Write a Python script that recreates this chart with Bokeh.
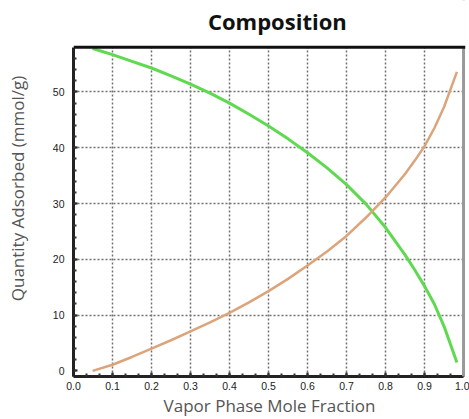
from bokeh.plotting import figure
from bokeh.models import Range1d, Span, FixedTicker, PrintfTickFormatter, Label, BoxAnnotation
from bokeh.embed import file_html
from bokeh.resources import INLINE

# data
x_green = [0.049, 0.10, 0.15, 0.20, 0.25, 0.30, 0.35, 0.40, 0.45, 0.50, 0.55,
           0.60, 0.65, 0.70, 0.75, 0.80, 0.85, 0.875, 0.90, 0.925, 0.95, 0.983]
y_green = [57.8, 56.7, 55.5, 54.3, 52.9, 51.4, 49.8, 48.0, 46.0, 43.9, 41.6,
           39.1, 36.4, 33.4, 29.9, 25.7, 20.8, 18.1, 15.2, 12.0, 8.0, 1.5]
x_orange = [0.049, 0.10, 0.15, 0.20, 0.25, 0.30, 0.35, 0.40, 0.45, 0.50, 0.55,
            0.60, 0.65, 0.70, 0.75, 0.80, 0.85, 0.875, 0.90, 0.925, 0.95, 0.983]
y_orange = [0.0, 1.1, 2.5, 4.0, 5.5, 7.1, 8.7, 10.4, 12.3, 14.3, 16.5,
            18.9, 21.4, 24.2, 27.5, 31.1, 35.3, 37.7, 40.3, 43.5, 47.3, 53.6]
x_ticks = [0.0, 0.1, 0.2, 0.3, 0.4, 0.5, 0.6, 0.7, 0.8, 0.9, 1.0]
y_ticks = [0, 10, 20, 30, 40, 50]
title_text = "Composition"

Y0, YTOP = -1.0, 58.0          # visible plotting area
YCANVAS = 66.4                 # range extends up to the canvas top (room for the title)
XEND = 1.005

p = figure(width=469, height=419, output_backend="svg", toolbar_location=None,
           x_range=Range1d(0, XEND), y_range=Range1d(Y0, YCANVAS),
           min_border_left=73, min_border_right=4, min_border_top=0, min_border_bottom=40)
p.outline_line_color = None
p.background_fill_color = "white"
p.border_fill_color = "white"

for ax in (p.xaxis, p.yaxis):
    ax.axis_line_color = "#222222"
    ax.axis_line_width = 3
    ax.major_tick_in = 4
    ax.major_tick_out = 0
    ax.major_tick_line_color = "#222222"
    ax.major_tick_line_width = 2
    ax.minor_tick_in = 3
    ax.minor_tick_out = 0
    ax.minor_tick_line_color = "#333333"
    ax.minor_tick_line_width = 2
    ax.major_label_text_font = "Liberation Sans"
    ax.major_label_text_font_size = "10.5px"
    ax.major_label_text_color = "#222222"
    ax.axis_label_text_font = "Open Sans"
    ax.axis_label_text_font_style = "normal"
    ax.axis_label_text_font_size = "17px"
    ax.axis_label_text_color = "#555555"

p.yaxis.bounds = (Y0, YTOP)
p.xaxis.bounds = (0, 1.0)
p.xaxis.ticker = FixedTicker(ticks=x_ticks, minor_ticks=[i / 30 for i in range(31)])
p.yaxis.ticker = FixedTicker(ticks=y_ticks, minor_ticks=list(range(0, 58, 2)))
p.xaxis.formatter = PrintfTickFormatter(format="%.1f")
p.xaxis.axis_label = "Vapor Phase Mole Fraction"
p.yaxis.axis_label = "Quantity Adsorbed (mmol/g)"
p.xaxis.major_label_standoff = 5
p.yaxis.major_label_standoff = 9
p.xaxis.axis_label_standoff = 1
p.yaxis.axis_label_standoff = 21

p.xgrid.ticker = FixedTicker(ticks=x_ticks[1:-1])
p.ygrid.ticker = FixedTicker(ticks=y_ticks[1:])
for g in (p.xgrid, p.ygrid):
    g.grid_line_color = "#707070"
    g.grid_line_width = 1.5
    g.grid_line_dash = "2 2"

p.line(x_green, y_green, line_color="#5fd94f", line_width=3)
p.line(x_orange, y_orange, line_color="#dca47a", line_width=2.5)

# right border, then white mask above the plotting area, then top border and title
p.add_layout(Span(location=1.0, dimension="height", line_color="#999999", line_width=3))
p.add_layout(BoxAnnotation(bottom=YTOP, fill_color="white", fill_alpha=1.0, line_color=None))
p.add_layout(Span(location=YTOP, dimension="width", line_color="#111111", line_width=3))
p.add_layout(Label(x=0.5226, y=62.8, text=title_text,
                   text_align="center", text_baseline="alphabetic",
                   text_font="Open Sans", text_font_style="bold",
                   text_font_size="22px", text_color="#111111"))

open("out.html", "w").write(file_html(p, INLINE))
